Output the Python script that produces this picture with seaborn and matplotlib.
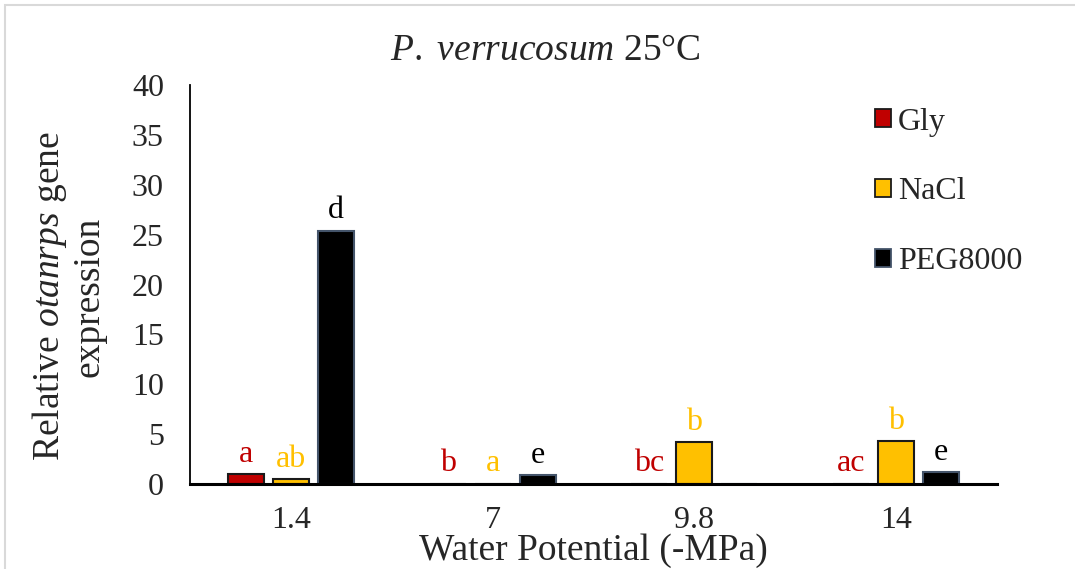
import matplotlib
matplotlib.use("Agg")
import matplotlib.pyplot as plt
from matplotlib.patches import Patch, Rectangle
import pandas as pd
import seaborn as sns

# Relative otanrps expression by water potential and solute
potentials = ["1.4", "7", "9.8", "14"]
solutes = ["Gly", "NaCl", "PEG8000"]
gly = [1.0, 0.05, 0.05, 0.05]
nacl = [0.5, 0.05, 4.2, 4.3]
peg = [25.4, 0.9, 0.0, 1.2]
gly_letters = ["a", "b", "bc", "ac"]
nacl_letters = ["ab", "a", "b", "b"]
peg_letters = ["d", "e", "", "e"]

fills = {"Gly": "#C00000", "NaCl": "#FFC000", "PEG8000": "#000000"}
edges = {"Gly": "#1a1a1a", "NaCl": "#1a1a1a", "PEG8000": "#44546A"}
text_colors = {"Gly": "#C00000", "NaCl": "#FFC000", "PEG8000": "#000000"}

df = pd.DataFrame({
    "potential": potentials * 3,
    "solute": [s for s in solutes for _ in potentials],
    "value": gly + nacl + peg,
})

sns.set_theme(style="white")
plt.rcParams["font.family"] = ["Liberation Serif", "DejaVu Serif"]
plt.rcParams["mathtext.fontset"] = "custom"
plt.rcParams["mathtext.rm"] = "Liberation Serif"
plt.rcParams["mathtext.it"] = "Liberation Serif:italic"

fig = plt.figure(figsize=(10.75, 5.69), dpi=100)
ax = fig.add_axes([0.177, 0.149, 0.75, 0.702])

sns.barplot(data=df, x="potential", y="value", hue="solute", order=potentials,
            hue_order=solutes, palette=fills, saturation=1, width=0.67,
            gap=0.2, linewidth=1.5, edgecolor="#1a1a1a", legend=False, ax=ax,
            errorbar=None)

letters = {"Gly": gly_letters, "NaCl": nacl_letters, "PEG8000": peg_letters}
for solute, cont in zip(solutes, ax.containers):
    for bar in cont:
        bar.set_edgecolor(edges[solute])
    ax.bar_label(cont, labels=letters[solute], padding=4, fontsize=23,
                 color=text_colors[solute])

ax.set_ylim(0, 40)
ax.set_yticks(range(0, 41, 5))
ax.set_xlim(-0.5, 3.5)
ax.set_xticks([-0.5, 0.5, 1.5, 2.5, 3.5], minor=True)
ax.tick_params(axis="x", which="major", length=0, pad=16, labelsize=23)
ax.tick_params(axis="x", which="minor", length=8, width=1.3, color="black",
               direction="out")
ax.tick_params(axis="y", length=6, width=1.3, color="black", direction="out",
               labelsize=23, pad=13)

for side in ("top", "right"):
    ax.spines[side].set_visible(False)
ax.spines["left"].set_color("black")
ax.spines["left"].set_linewidth(1.3)
ax.spines["bottom"].set_color("black")
ax.spines["bottom"].set_linewidth(2.2)

ax.set_xlabel("Water Potential (-MPa)", fontsize=27, labelpad=-1.5)
ax.set_ylabel("Relative $\\it{otanrps}$ gene\nexpression", fontsize=27,
              linespacing=1.1)
ax.yaxis.set_label_coords(-0.104, 0.47)
fig.text(0.507, 0.91, "$\\it{P.\\ verrucosum}$ 25°C", ha="center",
         va="center", fontsize=27)

handles = [Patch(facecolor=fills[s], edgecolor=edges[s], linewidth=1.3, label=s)
           for s in solutes]
ax.legend(handles=handles, loc="upper left", bbox_to_anchor=(0.814, 1.015),
          frameon=False, fontsize=23, handlelength=0.5, handleheight=0.5,
          handletextpad=0.2, labelspacing=1.28)

fig.add_artist(Rectangle((5 / 1075, -0.1), 1.2, 1.1 - 5 / 569,
                         transform=fig.transFigure, fill=False,
                         edgecolor="#d9d9d9", linewidth=1.5))

fig.savefig("out.png", dpi=100)
